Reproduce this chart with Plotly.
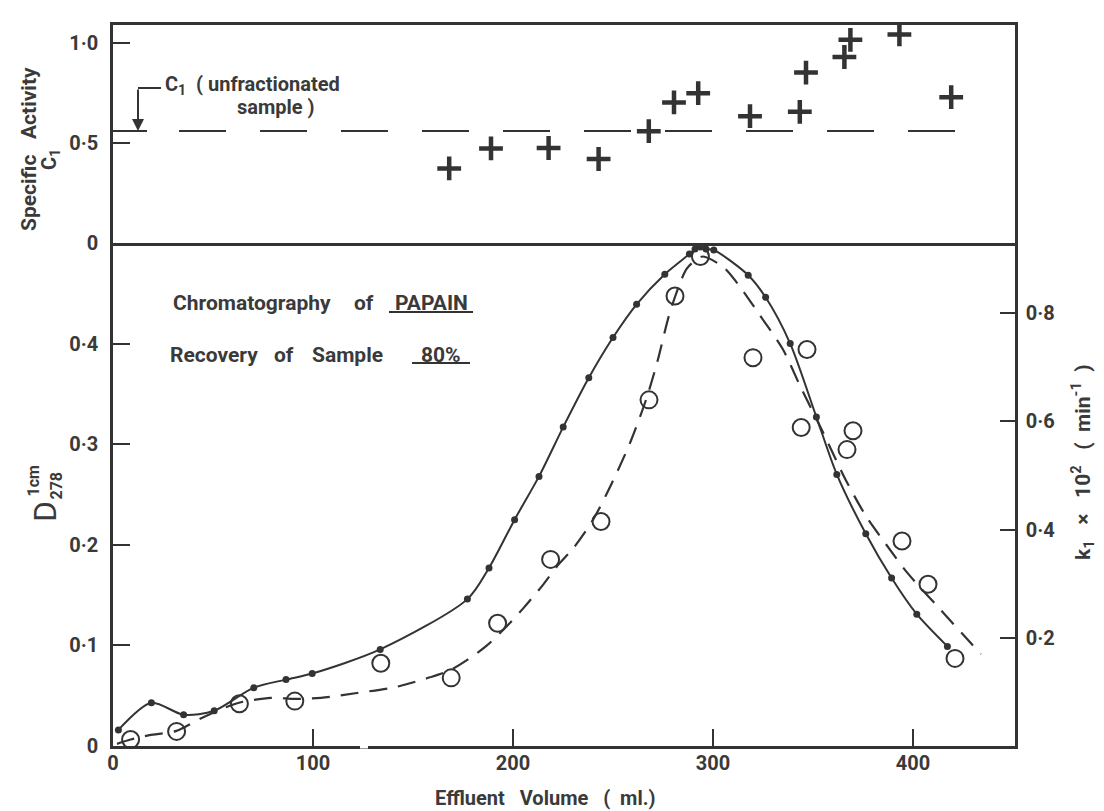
import plotly.graph_objects as go

# ---------------- data ----------------
# Bottom panel: optical density D278 (filled dots, solid curve), left axis
d_vol = [2.7, 19.2, 35.3, 50.6, 70.4, 86.5, 99.6, 133.6, 177.2, 188.0, 200.8, 213.0,
         225.1, 237.9, 250.0, 261.8, 275.9, 288.2, 291.0, 293.7, 296.5, 300.4, 317.6,
         326.3, 338.6, 351.7, 361.9, 376.4, 389.3, 401.9, 417.2]
d_abs = [0.016, 0.043, 0.031, 0.035, 0.058, 0.066, 0.072, 0.096, 0.146, 0.177, 0.225, 0.268,
         0.317, 0.366, 0.406, 0.439, 0.469, 0.489, 0.494, 0.496, 0.494, 0.493, 0.468,
         0.446, 0.400, 0.327, 0.270, 0.211, 0.167, 0.131, 0.099]

# Bottom panel: rate constant k1 x 10^2 (open circles), right axis
k_vol = [8.8, 31.8, 63.2, 90.9, 133.9, 169.1, 192.3, 218.8, 244.0, 268.0, 281.0, 293.7,
         320.0, 344.1, 347.0, 367.0, 370.0, 394.5, 407.5, 421.0]
k_val = [0.012, 0.027, 0.078, 0.083, 0.153, 0.126, 0.227, 0.345, 0.415, 0.640, 0.832, 0.905,
         0.718, 0.589, 0.733, 0.548, 0.583, 0.379, 0.299, 0.162]

# Hand-drawn dashed curve for k1
kc_vol = [2, 8.8, 18.2, 31.7, 43.3, 54, 63, 79, 91, 104, 122, 140, 148.5, 158.5, 169,
          177.5, 187, 196, 205, 215, 222.6, 230, 239.5, 249.3, 258.8, 266.5, 272, 278.8,
          286.8, 292, 295, 305, 313.5, 323.5, 335, 343.5, 355, 366.5, 376.5, 386.5, 397,
          414, 429, 434]
kc_val = [0.004, 0.012, 0.020, 0.028, 0.050, 0.068, 0.080, 0.089, 0.087, 0.089, 0.098,
          0.108, 0.116, 0.127, 0.141, 0.160, 0.186, 0.218, 0.254, 0.298, 0.335, 0.365,
          0.415, 0.485, 0.563, 0.640, 0.708, 0.806, 0.882, 0.900, 0.905, 0.886, 0.849,
          0.796, 0.733, 0.666, 0.580, 0.491, 0.425, 0.373, 0.321, 0.251, 0.190, 0.170]

# Top panel: specific activity C1 (pluses)
sa_vol = [168.1, 189.0, 217.8, 242.8, 267.9, 280.5, 292.6, 318.5, 343.4, 346.5, 365.7,
          368.7, 393.2, 419.1]
sa_val = [0.373, 0.473, 0.475, 0.420, 0.559, 0.703, 0.749, 0.634, 0.656, 0.852, 0.930,
          1.016, 1.043, 0.729]

# C1 of the unfractionated sample
c1_value = 0.56
c1_vol = [33, 437]

x_ticks = [0, 100, 200, 300, 400]
x_ticktext = ["0", "100", "200", "300", "400"]
d_ticks = [0, 0.1, 0.2, 0.3, 0.4]
d_ticktext = ["0", "0·1", "0·2", "0·3", "0·4"]
sa_ticks = [0, 0.5, 1.0]
sa_ticktext = ["0", "0·5", "1·0"]
k_ticks = [0.2, 0.4, 0.6, 0.8]
k_ticktext = ["0·2", "0·4", "0·6", "0·8"]

# ---------------- styling ----------------
INK = "#333333"
TXT = "#3a3a3a"
FONT = "Roboto"
W, H = 1104, 811
L, R, T, B = 113, 89, 25, 65
PW, PH = W - L - R, H - T - B
split = 503 / PH


def P(px, py):
    return (px - L) / PW, (H - B - py) / PH


fig = go.Figure()

fig.add_trace(go.Scatter(x=d_vol, y=d_abs, mode="lines+markers",
                         line=dict(color=INK, width=2, shape="spline", smoothing=0.8),
                         marker=dict(size=7, color=INK), xaxis="x", yaxis="y"))
fig.add_trace(go.Scatter(x=kc_vol, y=kc_val, mode="lines",
                         line=dict(color=INK, width=2.2, dash="18px,11px",
                                   shape="spline", smoothing=0.8),
                         xaxis="x", yaxis="y3"))
fig.add_trace(go.Scatter(x=k_vol, y=k_val, mode="markers",
                         marker=dict(symbol="circle-open", size=17, color=INK,
                                     line=dict(width=2, color=INK)),
                         xaxis="x", yaxis="y3"))
fig.add_trace(go.Scatter(x=sa_vol, y=sa_val, mode="markers",
                         marker=dict(symbol="cross-thin", size=17, color=INK,
                                     line=dict(width=4.5, color=INK)),
                         xaxis="x2", yaxis="y2"))
fig.add_trace(go.Scatter(x=c1_vol, y=[c1_value, c1_value], mode="lines",
                         line=dict(color=INK, width=2, dash="47px,34px"),
                         xaxis="x2", yaxis="y2"))

tickfont = dict(family=FONT, size=20, color=TXT, weight="bold")
axis_common = dict(showgrid=False, zeroline=False, linecolor=INK, linewidth=2.5,
                   tickcolor=INK, tickwidth=2, tickfont=tickfont)

fig.update_layout(
    width=W, height=H, margin=dict(l=L, r=R, t=T, b=B),
    paper_bgcolor="white", plot_bgcolor="white", showlegend=False,
    font=dict(family=FONT, color=TXT),
    xaxis=dict(axis_common, domain=[0, 1], range=[0, 451], anchor="y",
               showline=True, ticks="inside", ticklen=17,
               tickvals=x_ticks, ticktext=x_ticktext, ticklabelstandoff=-3),
    yaxis=dict(axis_common, domain=[0, split], range=[0, 0.5], anchor="x",
               showline=True, ticks="inside", ticklen=17,
               tickvals=d_ticks, ticktext=d_ticktext, ticklabelstandoff=8),
    yaxis3=dict(axis_common, overlaying="y", side="right", range=[0, 0.93],
                anchor="x", showline=True, ticks="inside", ticklen=15,
                tickvals=k_ticks, ticktext=k_ticktext, ticklabelstandoff=4),
    xaxis2=dict(axis_common, domain=[0, 1], range=[0, 451], anchor="y2",
                showline=True, mirror=True, ticks="", showticklabels=False),
    yaxis2=dict(axis_common, domain=[split, 1], range=[0, 1.09], anchor="x2",
                showline=True, mirror=True, ticks="inside", ticklen=17,
                tickvals=sa_ticks, ticktext=sa_ticktext, ticklabelstandoff=8),
)

ann = []


def text(px, py, s, size, angle=0, xanchor="center", bold=True):
    x, y = P(px, py)
    ann.append(dict(x=x, y=y, xref="paper", yref="paper", text=s, showarrow=False,
                    textangle=angle, xanchor=xanchor, yanchor="middle",
                    font=dict(family=FONT, size=size, color=TXT,
                              weight="bold" if bold else "normal")))


# panel texts
text(251.5, 303, "Chromatography", 21)
text(363.5, 303, "of", 21)
text(431, 303, "PAPAIN", 21)
text(214, 355, "Recovery", 21)
text(283.5, 355, "of", 21)
text(347, 355, "Sample", 21)
text(441, 355, "80%", 21)

# axis titles
text(29, 149, "Specific   Activity", 21, angle=-90)
text(50, 160, "C<sub>1</sub>", 20, angle=-90)
text(45, 512, "D", 32, angle=-90, bold=False)
text(33.5, 481, "1cm", 16, angle=-90)
text(56.5, 486, "278", 16, angle=-90)
text(1083, 462, "k<sub>1</sub>   ×   10<sup>2</sup>   (  min<sup>-1</sup>  )", 21, angle=-90)
text(545, 798, "Effluent   Volume   (  ml.)", 20)

# C1 annotation in the top panel
text(163, 85, "C<sub>1</sub>  ( unfractionated", 20, xanchor="left")
text(276, 107, "sample )", 20)
ann.append(dict(x=12.5, y=c1_value, xref="x2", yref="y2", ax=12.5, ay=0.775,
                axref="x2", ayref="y2", text="", showarrow=True, arrowhead=2,
                arrowsize=1.2, arrowwidth=2, arrowcolor=INK))

fig.update_layout(annotations=ann)

shapes = []
for (x0, x1, py) in [(389, 473, 312), (412, 470, 363)]:
    a, b_ = P(x0, py)
    c, _ = P(x1, py)
    shapes.append(dict(type="line", xref="paper", yref="paper", x0=a, x1=c, y0=b_, y1=b_,
                       line=dict(color=INK, width=2)))
shapes.append(dict(type="line", xref="x2", yref="y2", x0=0, x1=17, y0=c1_value,
                   y1=c1_value, line=dict(color=INK, width=2)))
shapes.append(dict(type="line", xref="x2", yref="y2", x0=12.5, x1=24, y0=0.775,
                   y1=0.775, line=dict(color=INK, width=2)))
# small break in the printed volume axis
shapes.append(dict(type="line", xref="x", yref="paper", x0=123.5, x1=127.5, y0=0, y1=0,
                   layer="above", line=dict(color="white", width=5)))
fig.update_layout(shapes=shapes)

fig.write_html("out.html")
